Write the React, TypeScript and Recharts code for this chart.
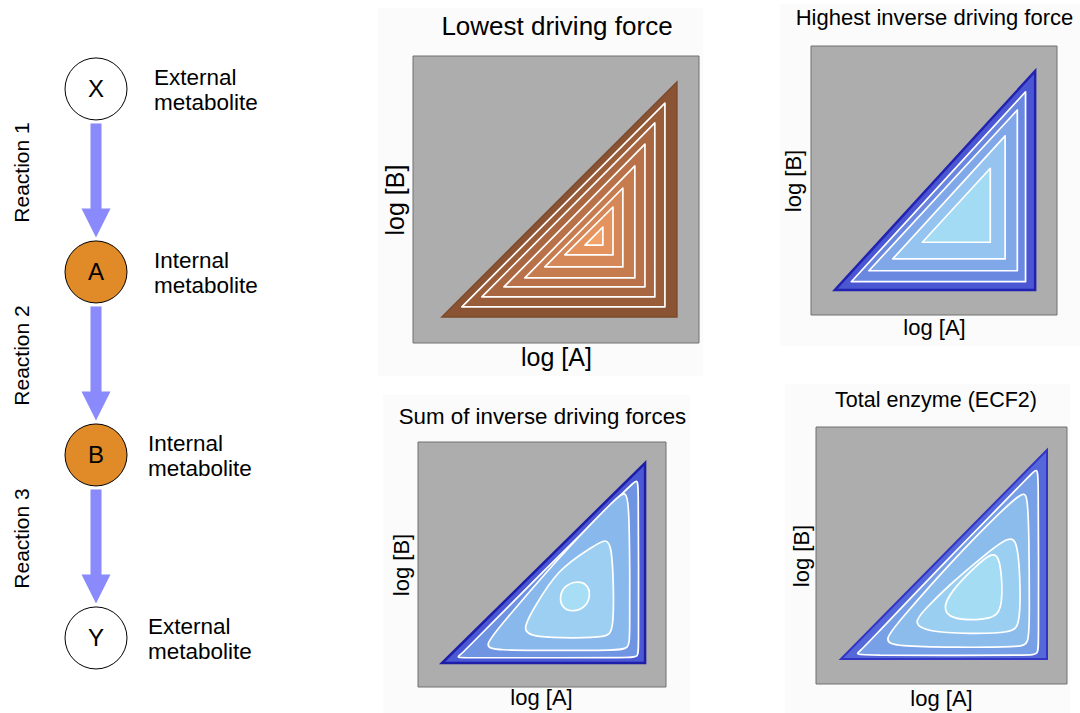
import React from 'react';
import { ComposedChart, ScatterChart, Scatter, Area, XAxis, YAxis, ReferenceArea } from 'recharts';

const PAGE_W = 1080;
const PAGE_H = 713;
const FONT = '"Liberation Sans", Arial, Helvetica, sans-serif';

// pathway on the left
const metaboliteIds = ['X', 'A', 'B', 'Y'];
const metaboliteTypes = ['External', 'Internal', 'Internal', 'External'];
const metaboliteRows = [3, 2, 1, 0];
const reactionNames = ['Reaction 1', 'Reaction 2', 'Reaction 3'];
const reactionRows = [2.5, 1.5, 0.5];

// feasible region in normalized (log[A], log[B]) space
const feasibleTriangle = [[0, 0], [1, 0], [1, 1]];

// contour lines, normalized coordinates
const lowestContours = [
  [[0.085, 0.043], [0.949, 0.043], [0.949, 0.91]],
  [[0.17, 0.085], [0.906, 0.085], [0.906, 0.826]],
  [[0.264, 0.128], [0.864, 0.128], [0.864, 0.736]],
  [[0.353, 0.166], [0.821, 0.166], [0.821, 0.643]],
  [[0.438, 0.213], [0.77, 0.213], [0.77, 0.549]],
  [[0.523, 0.264], [0.728, 0.264], [0.728, 0.468]],
  [[0.609, 0.306], [0.685, 0.306], [0.685, 0.383]],
];

const highestInverseContours = [
  [[0.082, 0.038], [0.952, 0.038], [0.952, 0.905]],
  [[0.17, 0.088], [0.911, 0.088], [0.911, 0.822]],
  [[0.289, 0.142], [0.85, 0.142], [0.85, 0.704]],
  [[0.437, 0.218], [0.776, 0.218], [0.776, 0.556]],
];

const sumInverseContours = [
  [[0.07, 0.027], [0.13, 0.026], [0.5, 0.026], [0.93, 0.027], [0.966, 0.03], [0.968, 0.07], [0.968, 0.5], [0.967, 0.88], [0.962, 0.92], [0.93, 0.89], [0.5, 0.46], [0.12, 0.07], [0.09, 0.04]],
  [[0.2, 0.08], [0.27, 0.064], [0.55, 0.062], [0.86, 0.064], [0.92, 0.07], [0.925, 0.13], [0.925, 0.5], [0.92, 0.8], [0.905, 0.86], [0.86, 0.83], [0.55, 0.5], [0.3, 0.2]],
  [[0.39, 0.16], [0.46, 0.128], [0.65, 0.125], [0.81, 0.128], [0.845, 0.16], [0.845, 0.4], [0.835, 0.58], [0.81, 0.625], [0.74, 0.58], [0.57, 0.47], [0.45, 0.27]],
  [[0.733, 0.345], [0.713, 0.398], [0.66, 0.41], [0.6, 0.385], [0.577, 0.325], [0.595, 0.27], [0.65, 0.255], [0.71, 0.28]],
];

const totalEnzymeContours = [
  [[0.07, 0.022], [0.14, 0.018], [0.5, 0.017], [0.92, 0.018], [0.957, 0.022], [0.959, 0.07], [0.959, 0.5], [0.958, 0.87], [0.952, 0.915], [0.92, 0.88], [0.5, 0.46], [0.13, 0.075], [0.09, 0.035]],
  [[0.2, 0.085], [0.27, 0.06], [0.55, 0.055], [0.87, 0.057], [0.912, 0.07], [0.915, 0.2], [0.913, 0.6], [0.905, 0.78], [0.885, 0.8], [0.8, 0.73], [0.52, 0.45], [0.3, 0.2]],
  [[0.35, 0.17], [0.42, 0.13], [0.62, 0.12], [0.83, 0.125], [0.87, 0.16], [0.87, 0.4], [0.855, 0.56], [0.82, 0.59], [0.7, 0.5], [0.52, 0.35], [0.4, 0.23]],
  [[0.49, 0.24], [0.54, 0.19], [0.66, 0.185], [0.77, 0.2], [0.785, 0.3], [0.775, 0.47], [0.74, 0.52], [0.64, 0.43], [0.54, 0.33]],
];

const brownFills = ['#8a5333', '#9a5d3a', '#a96741', '#b87148', '#c77c50', '#d68757', '#e4935f', '#f2a268'];
const blueFills2 = ['#4a56d2', '#6a88e0', '#80a8e8', '#94c4ef', '#a4dbf4'];
const blueFills3 = ['#4a58d4', '#6e94e2', '#89b8ec', '#9ccff1', '#a8def5'];
const blueFills4 = ['#5468da', '#78a0e6', '#8bbcec', '#9acff1', '#a4dcf4'];

const toPoints = (pts: number[][]) => pts.map(([x, y]) => ({ x, y }));

const txt = { fontFamily: FONT, fill: '#000' };

type Box = { left: number; top: number; right: number; bottom: number };

interface PanelProps {
  box: Box;
  xDomain: [number, number];
  yDomain: [number, number];
  contours: number[][][];
  fills: string[];
  curve: 'linearClosed' | 'basisClosed';
  edge: string;
  edgeWidth: number;
  children?: React.ReactNode;
}

const ContourPanel: React.FC<PanelProps> = ({ box, xDomain, yDomain, contours, fills, curve, edge, edgeWidth, children }) => (
  <div style={{ position: 'absolute', left: 0, top: 0 }}>
    <ComposedChart
      width={PAGE_W}
      height={PAGE_H}
      margin={{ left: box.left, top: box.top, right: PAGE_W - box.right, bottom: PAGE_H - box.bottom }}
    >
      <XAxis type="number" dataKey="x" domain={xDomain} hide allowDataOverflow />
      <YAxis type="number" domain={yDomain} hide allowDataOverflow />
      <ReferenceArea x1={xDomain[0]} x2={xDomain[1]} y1={yDomain[0]} y2={yDomain[1]} fill="#adadad" fillOpacity={1} stroke="#707070" strokeWidth={1} />
      <Area
        data={toPoints(feasibleTriangle)}
        dataKey="y"
        type="linearClosed"
        fill={fills[0]}
        fillOpacity={1}
        stroke={edge}
        strokeWidth={edgeWidth}
        dot={false}
        activeDot={false}
        isAnimationActive={false}
      />
      {contours.map((c, i) => (
        <Area
          key={i}
          data={toPoints(c)}
          dataKey="y"
          type={curve}
          fill={fills[i + 1]}
          fillOpacity={1}
          stroke="#ffffff"
          strokeWidth={1.7}
          strokeLinejoin="round"
          dot={false}
          activeDot={false}
          isAnimationActive={false}
        />
      ))}
      {children}
    </ComposedChart>
  </div>
);

const MetaboliteNode = (props: any) => {
  const { cx, cy, payload } = props;
  const internal = payload.type === 'Internal';
  // labels of the lower two nodes sit a little further left
  const dx = payload.y >= 2 ? 58 : 52;
  return (
    <g>
      <circle cx={cx} cy={cy} r={31} fill={internal ? '#e08a28' : '#ffffff'} stroke="#000" strokeWidth={1} />
      <text x={cx} y={cy + 8.5} textAnchor="middle" fontSize={24} style={txt}>{payload.id}</text>
      <text x={cx + dx} y={cy - 4} fontSize={22.5} style={txt}>{payload.type}</text>
      <text x={cx + dx} y={cy + 21} fontSize={22.5} style={txt}>metabolite</text>
    </g>
  );
};

const ReactionArrow = (props: any) => {
  const { cx, cy, payload } = props;
  return (
    <g>
      <rect x={cx - 5.5} y={cy - 57} width={11} height={86} fill="#8a8afc" />
      <polygon points={`${cx - 14.5},${cy + 28} ${cx + 14.5},${cy + 28} ${cx},${cy + 57}`} fill="#8a8afc" />
      <text transform={`translate(${cx - 67},${cy - 8}) rotate(-90)`} textAnchor="middle" fontSize={21} style={txt}>
        {payload.name}
      </text>
    </g>
  );
};

const nodeData = metaboliteIds.map((id, i) => ({ x: 1, y: metaboliteRows[i], id, type: metaboliteTypes[i] }));
const reactionData = reactionNames.map((name, i) => ({ x: 1, y: reactionRows[i], name }));

const Pathway = () => (
  <div style={{ position: 'absolute', left: 0, top: 0 }}>
    <ScatterChart width={300} height={PAGE_H} margin={{ top: 0, right: 0, bottom: 0, left: 0 }}>
      <XAxis type="number" dataKey="x" domain={[0, 3.125]} hide />
      <YAxis type="number" dataKey="y" domain={[-0.41, 3.486]} hide />
      <Scatter data={reactionData} shape={ReactionArrow} isAnimationActive={false} />
      <Scatter data={nodeData} shape={MetaboliteNode} isAnimationActive={false} />
    </ScatterChart>
  </div>
);

const Backdrop = ({ l, t, w, h }: { l: number; t: number; w: number; h: number }) => (
  <div style={{ position: 'absolute', left: l, top: t, width: w, height: h, background: '#fbfbfb' }} />
);

export default function App() {
  return (
    <div style={{ position: 'absolute', left: 0, top: 0, width: PAGE_W, height: PAGE_H, background: '#fff', overflow: 'hidden' }}>
      <Backdrop l={378} t={8} w={325} h={368} />
      <Backdrop l={780} t={4} w={300} h={342} />
      <Backdrop l={383} t={395} w={307} h={318} />
      <Backdrop l={785} t={384} w={285} h={329} />

      <Pathway />

      <ContourPanel
        box={{ left: 413, top: 56, right: 699, bottom: 343 }}
        xDomain={[-0.123, 1.094]}
        yDomain={[-0.111, 1.111]}
        contours={lowestContours}
        fills={brownFills}
        curve="linearClosed"
        edge="#7c4a2c"
        edgeWidth={1.5}
      >
        <text x={557} y={35} textAnchor="middle" fontSize={26} style={txt}>Lowest driving force</text>
        <text x={556.5} y={366} textAnchor="middle" fontSize={25} style={txt}>log [A]</text>
        <text transform="translate(404,200) rotate(-90)" textAnchor="middle" fontSize={25} style={txt}>log [B]</text>
      </ContourPanel>

      <ContourPanel
        box={{ left: 811, top: 46, right: 1057, bottom: 315 }}
        xDomain={[-0.119, 1.109]}
        yDomain={[-0.114, 1.114]}
        contours={highestInverseContours}
        fills={blueFills2}
        curve="linearClosed"
        edge="#2222b0"
        edgeWidth={2.5}
      >
        <text x={934.5} y={25} textAnchor="middle" fontSize={22} style={txt}>Highest inverse driving force</text>
        <text x={934.5} y={335} textAnchor="middle" fontSize={22} style={txt}>log [A]</text>
        <text transform="translate(801,181) rotate(-90)" textAnchor="middle" fontSize={22} style={txt}>log [B]</text>
      </ContourPanel>

      <ContourPanel
        box={{ left: 418, top: 442, right: 666, bottom: 687 }}
        xDomain={[-0.118, 1.103]}
        yDomain={[-0.12, 1.105]}
        contours={sumInverseContours}
        fills={blueFills3}
        curve="basisClosed"
        edge="#1e1ea8"
        edgeWidth={2.5}
      >
        <text x={542.5} y={424} textAnchor="middle" fontSize={22.3} style={txt}>Sum of inverse driving forces</text>
        <text x={541.5} y={705} textAnchor="middle" fontSize={22} style={txt}>log [A]</text>
        <text transform="translate(409,565) rotate(-90)" textAnchor="middle" fontSize={22} style={txt}>log [B]</text>
      </ContourPanel>

      <ContourPanel
        box={{ left: 816, top: 427, right: 1067, bottom: 684 }}
        xDomain={[-0.121, 1.097]}
        yDomain={[-0.12, 1.11]}
        contours={totalEnzymeContours}
        fills={blueFills4}
        curve="basisClosed"
        edge="#3434c4"
        edgeWidth={2}
      >
        <text x={936} y={407} textAnchor="middle" fontSize={21.5} style={txt}>Total enzyme (ECF2)</text>
        <text x={941.5} y={706} textAnchor="middle" fontSize={22} style={txt}>log [A]</text>
        <text transform="translate(809,556) rotate(-90)" textAnchor="middle" fontSize={22} style={txt}>log [B]</text>
      </ContourPanel>
    </div>
  );
}
